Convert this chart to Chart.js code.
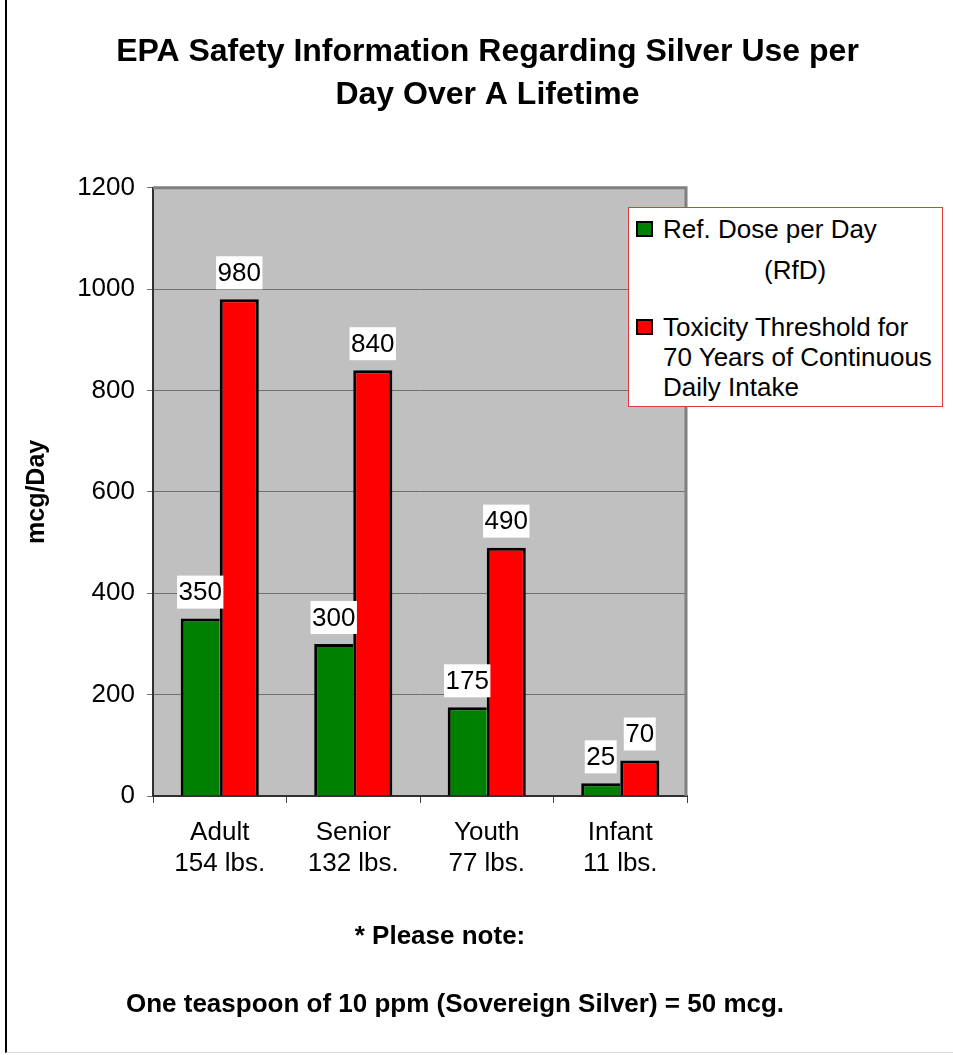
<!DOCTYPE html>
<html>
<head>
<meta charset="utf-8">
<title>EPA Safety Information Regarding Silver Use</title>
<script src="https://cdn.jsdelivr.net/npm/chart.js@4"></script>
<style>
  body { margin: 0; background: #fff; font-family: "Liberation Sans", Arial, sans-serif; }
  #wrap { position: relative; width: 953px; height: 1055px; overflow: hidden; }
  #frame { position: absolute; left: 5px; top: 0; width: 948px; height: 1052px;
           border-left: 2px solid #000; border-bottom: 1px solid #d8d8d8; }
  #legend { position: absolute; left: 628px; top: 207px; width: 313px; height: 198px;
            border: 1px solid #e03a3a; background: #fff; box-sizing: content-box; }
  .item { position: absolute; left: 7px; font-size: 26px; line-height: 30px; color: #000; }
  .swatch { position: absolute; left: 0; width: 17px; height: 16px; border: 2px solid #000; box-sizing: border-box; }
  .lines { margin-left: 27px; white-space: nowrap; }
  .note { position: absolute; left: 0; font-weight: bold; font-size: 26px; line-height: 30px;
          text-align: center; color: #000; white-space: nowrap; }
</style>
</head>
<body>
<div id="wrap">
  <canvas id="chart" width="953" height="1055"></canvas>
  <div id="frame"></div>
  <div id="legend"></div>
  <div class="note" style="top:920px;width:880px;">* Please note:</div>
  <div class="note" style="top:988px;width:910px;">One teaspoon of 10 ppm (Sovereign Silver) = 50 mcg.</div>
</div>
<script>
// data
const categories = [["Adult", "154 lbs."], ["Senior", "132 lbs."], ["Youth", "77 lbs."], ["Infant", "11 lbs."]];
const rfdLabel = ["Ref. Dose per Day", "(RfD)"];
const toxLabel = ["Toxicity Threshold for", "70 Years of Continuous", "Daily Intake"];
const rfdValues = [350, 300, 175, 25];
const toxValues = [980, 840, 490, 70];
const yMin = 0;
const yMax = 1200;
const yStep = 200;

const font = '"Liberation Sans", Arial, sans-serif';

// gray plot background + shaded top/right edge
const plotBox = {
  id: "plotBox",
  beforeDraw(chart) {
    const a = chart.chartArea;
    const ctx = chart.ctx;
    ctx.save();
    ctx.fillStyle = "#c0c0c0";
    ctx.fillRect(a.left, a.top, a.right - a.left, a.bottom - a.top);
    ctx.restore();
  },
  beforeDatasetsDraw(chart) {
    const a = chart.chartArea;
    const ctx = chart.ctx;
    ctx.save();
    ctx.strokeStyle = "#808080";
    ctx.lineWidth = 3;
    ctx.beginPath();
    ctx.moveTo(a.left, a.top);
    ctx.lineTo(a.right - 1, a.top);
    ctx.lineTo(a.right - 1, a.bottom);
    ctx.stroke();
    ctx.restore();
  }
};

// white boxed value labels over each bar
const barLabels = {
  id: "barLabels",
  afterDatasetsDraw(chart) {
    const ctx = chart.ctx;
    ctx.save();
    ctx.font = "26px " + font;
    ctx.textAlign = "center";
    ctx.textBaseline = "middle";
    chart.data.datasets.forEach((ds, i) => {
      chart.getDatasetMeta(i).data.forEach((bar, j) => {
        const txt = String(ds.data[j]);
        const w = ctx.measureText(txt).width + 3;
        const h = 33;
        const bottom = bar.y - 10;
        ctx.fillStyle = "#fff";
        ctx.fillRect(bar.x - w / 2, bottom - h, w, h);
        ctx.fillStyle = "#000";
        ctx.fillText(txt, bar.x, bottom - h / 2 + 1);
      });
    });
    ctx.restore();
  }
};

const chart = new Chart(document.getElementById("chart"), {
  type: "bar",
  data: {
    labels: categories,
    datasets: [
      {
        label: rfdLabel,
        data: rfdValues,
        backgroundColor: "#008000",
        borderColor: "#000",
        borderWidth: { top: 3, left: 3, right: 0, bottom: 0 },
        categoryPercentage: 0.585,
        barPercentage: 1
      },
      {
        label: toxLabel,
        data: toxValues,
        backgroundColor: "#ff0000",
        borderColor: "#000",
        borderWidth: { top: 3, left: 3, right: 3, bottom: 0 },
        categoryPercentage: 0.585,
        barPercentage: 1
      }
    ]
  },
  options: {
    responsive: false,
    animation: false,
    layout: { padding: { left: 22, top: 0, right: 0, bottom: 170 } },
    plugins: {
      legend: { display: false },
      tooltip: { enabled: false },
      title: {
        display: true,
        text: ["EPA Safety Information Regarding Silver Use per", "Day Over A Lifetime"],
        color: "#000",
        font: { family: font, size: 32, weight: "bold", lineHeight: 1.34 },
        padding: { top: 31, bottom: 71 }
      }
    },
    scales: {
      x: {
        grid: { display: true, drawOnChartArea: false, drawTicks: true, tickLength: 7, color: "#404040", offset: true },
        border: { display: true, color: "#303030", width: 2 },
        ticks: { color: "#000", padding: 14, font: { family: font, size: 26, lineHeight: 1.2 }, maxRotation: 0 },
        afterFit(s) { s.height = 89; }
      },
      y: {
        min: yMin,
        max: yMax,
        ticks: {
          stepSize: yStep,
          color: "#000",
          padding: 12,
          font: { family: font, size: 26 },
          callback: v => String(v)
        },
        grid: { color: "#707070", lineWidth: 1, tickLength: 6 },
        border: { display: true, color: "#303030", width: 2 },
        title: {
          display: true,
          text: "mcg/Day",
          color: "#000",
          padding: 0,
          font: { family: font, size: 25, weight: "bold", lineHeight: 1.2 }
        },
        afterFit(s) { s.width = 131; }
      },
      room: {
        type: "linear",
        position: "right",
        display: true,
        grid: { display: false },
        border: { display: false },
        ticks: { display: false },
        afterFit(s) { s.width = 266; }
      }
    }
  },
  plugins: [plotBox, barLabels]
});

// legend box built from the datasets
const legend = document.getElementById("legend");
const itemTops = [6, 104];
chart.data.datasets.forEach((ds, i) => {
  const item = document.createElement("div");
  item.className = "item";
  item.style.top = itemTops[i] + "px";
  const sw = document.createElement("div");
  sw.className = "swatch";
  sw.style.background = ds.backgroundColor;
  sw.style.top = "7px";
  item.appendChild(sw);
  const lines = document.createElement("div");
  lines.className = "lines";
  ds.label.forEach((t, k) => {
    const ln = document.createElement("div");
    ln.textContent = t;
    if (i === 0 && k === 1) { ln.style.marginTop = "11px"; ln.style.paddingLeft = "101px"; }
    lines.appendChild(ln);
  });
  item.appendChild(lines);
  legend.appendChild(item);
});
</script>
</body>
</html>
